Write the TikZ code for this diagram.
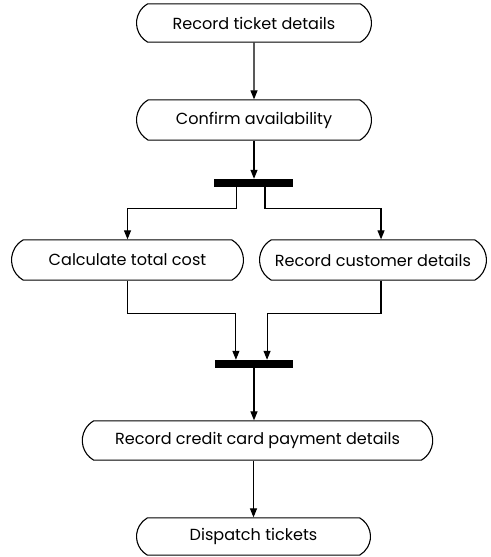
\documentclass[tikz,border=0pt]{standalone}
\usepackage{fontspec}
\setmainfont{Poppins}
\usepackage{tikz}
\usetikzlibrary{arrows.meta, shapes.misc}

\tikzset{
  activity/.style={draw, line width=1.1pt, rounded rectangle, rounded rectangle arc length=120,
    minimum height=39pt, inner sep=2pt, font=\fontsize{16}{18}\selectfont},
  syncbar/.style={fill=black, minimum width=78pt, minimum height=8pt, inner sep=0pt},
  flow/.style={-{Triangle[length=9pt, width=7pt]}, line width=1.1pt}
}

\begin{document}
\begin{tikzpicture}[x=0.035cm, y=-0.035cm]
    \useasboundingbox (0,0) rectangle (491,557);

    % activities
    \node[activity, minimum width=238pt, minimum height=38pt] (rtd) at (254,23) {Record ticket details};
    \node[activity, minimum width=238pt, minimum height=40pt] (ca) at (254,120) {Confirm availability};
    \node[syncbar] (fork) at (253.5,183) {};
    \node[activity, minimum width=235pt, minimum height=40pt] (ctc) at (127.5,260) {Calculate total cost};
    \node[activity, minimum width=230pt, minimum height=40pt] (rcd) at (373,260) {Record customer details};
    \node[syncbar] (join) at (254,364) {};
    \node[activity, minimum width=353pt] (rcc) at (257.5,440.5) {Record credit card payment details};
    \node[activity, minimum width=237pt, minimum height=37pt] (dt) at (253.5,536.5) {Dispatch tickets};

    % flows
    \draw[flow] (rtd) -- (ca);
    \draw[flow] (ca.south) -- (ca.south |- fork.north);
    \draw[flow] ([xshift=-16.5pt]fork.south) -- ++(0,21) -| (ctc.north);
    \draw[flow] ([xshift=11.5pt]fork.south) -- ++(0,21) -| ([xshift=8pt]rcd.north);
    \draw[flow] (ctc.south) -- ++(0,33) -| ([xshift=-18pt]join.north);
    \draw[flow] ([xshift=8pt]rcd.south) -- ++(0,33) -| ([xshift=13pt]join.north);
    \draw[flow] (join.south) -- (join.south |- rcc.north);
    \draw[flow] (dt.north |- rcc.south) -- (dt.north);
\end{tikzpicture}
\end{document}
